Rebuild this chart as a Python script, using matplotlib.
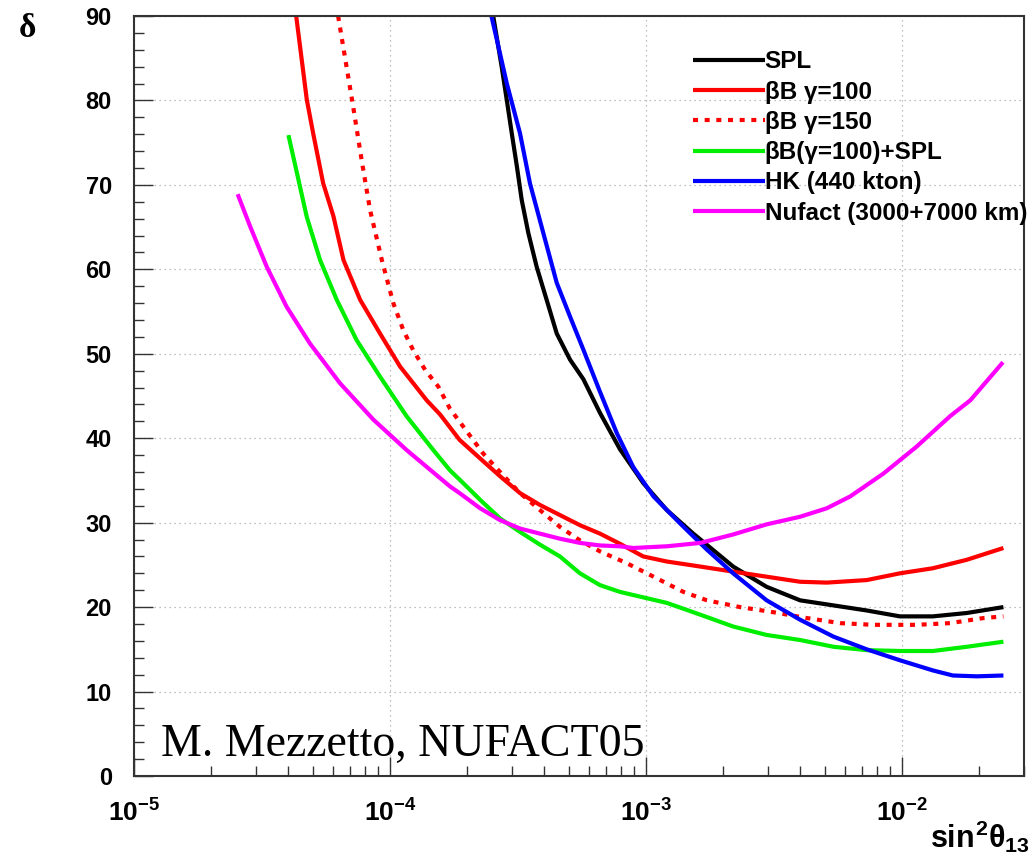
import numpy as np
import matplotlib
matplotlib.use("Agg")
import matplotlib.pyplot as plt
from matplotlib.ticker import MultipleLocator, FixedLocator, LogLocator, NullFormatter

plt.rcParams["font.family"] = ["Liberation Sans", "DejaVu Sans"]
plt.rcParams["font.weight"] = "bold"
plt.rcParams["mathtext.fontset"] = "custom"
plt.rcParams["mathtext.rm"] = "Liberation Sans:bold"
plt.rcParams["mathtext.bf"] = "Liberation Sans:bold"
plt.rcParams["mathtext.it"] = "Liberation Sans:bold"

# sin^2(theta13) values and delta (deg)
spl_x = [2.53e-4, 2.73e-4, 2.86e-4, 2.99e-4, 3.13e-4, 3.27e-4, 3.47e-4, 3.74e-4, 4.09e-4,
         4.48e-4, 5.05e-4, 5.69e-4, 6.61e-4, 7.91e-4, 9.75e-4, 1.205e-3, 1.53e-3, 2.19e-3,
         2.96e-3, 4.00e-3, 5.40e-3, 7.28e-3, 9.82e-3, 1.32e-2, 1.79e-2, 2.49e-2]
spl_y = [90, 84.0, 80.0, 76.1, 72.2, 68.2, 64.3, 60.3, 56.4,
         52.4, 49.3, 47.0, 43.0, 38.7, 34.7, 31.5, 28.7, 24.8,
         22.4, 20.8, 20.2, 19.6, 18.9, 18.9, 19.3, 20.0]

bb100_x = [4.30e-5, 4.73e-5, 5.01e-5, 5.48e-5, 6.01e-5, 6.58e-5, 7.64e-5, 9.14e-5, 1.094e-4,
           1.39e-4, 1.57e-4, 1.87e-4, 2.25e-4, 2.69e-4, 3.22e-4, 3.85e-4, 4.61e-4, 5.52e-4,
           6.61e-4, 7.91e-4, 9.75e-4, 1.205e-3, 1.63e-3, 2.19e-3, 2.96e-3, 4.00e-3, 5.08e-3,
           7.28e-3, 9.82e-3, 1.32e-2, 1.79e-2, 2.49e-2]
bb100_y = [90, 80.1, 76.1, 70.2, 66.3, 61.1, 56.4, 52.4, 48.5,
           44.5, 42.8, 39.8, 37.6, 35.5, 33.5, 32.1, 30.9, 29.7,
           28.7, 27.5, 26.0, 25.4, 24.8, 24.2, 23.6, 23.0, 22.9,
           23.2, 24.0, 24.6, 25.6, 27.0]

bb150_x = [6.27e-5, 7.14e-5, 7.78e-5, 8.36e-5, 9.29e-5, 1.03e-4, 1.127e-4, 1.233e-4, 1.371e-4,
           1.545e-4, 1.714e-4, 1.93e-4, 2.31e-4, 2.69e-4, 3.22e-4, 3.85e-4, 4.61e-4, 5.52e-4,
           6.61e-4, 8.41e-4, 1.07e-3, 1.40e-3, 1.73e-3, 2.33e-3, 3.14e-3, 4.25e-3, 5.73e-3,
           7.73e-3, 1.14e-2, 1.54e-2, 2.08e-2, 2.49e-2]
bb150_y = [90, 79.7, 72.6, 67.0, 61.1, 56.0, 52.8, 50.4, 48.1,
           46.1, 43.5, 41.4, 38.2, 36.0, 33.5, 31.5, 29.5, 27.9,
           26.6, 25.2, 23.6, 21.8, 20.8, 20.0, 19.4, 18.7, 18.1,
           17.9, 17.9, 18.1, 18.7, 18.9]

combo_x = [4.01e-5, 4.33e-5, 4.73e-5, 5.33e-5, 6.19e-5, 7.41e-5, 9.14e-5, 1.161e-4, 1.476e-4,
           1.714e-4, 1.87e-4, 2.25e-4, 2.69e-4, 3.22e-4, 3.85e-4, 4.61e-4, 5.52e-4, 6.61e-4,
           7.91e-4, 1.205e-3, 1.63e-3, 2.19e-3, 2.96e-3, 4.00e-3, 5.40e-3, 7.28e-3, 9.82e-3,
           1.32e-2, 1.79e-2, 2.49e-2]
combo_y = [75.9, 71.4, 66.2, 61.1, 56.4, 51.6, 47.3, 42.6, 38.6,
           36.2, 35.1, 32.7, 30.5, 28.9, 27.4, 26.0, 24.0, 22.6,
           21.8, 20.5, 19.1, 17.7, 16.7, 16.1, 15.3, 14.9, 14.8,
           14.8, 15.3, 15.9]

hk_x = [2.49e-4, 2.86e-4, 3.22e-4, 3.52e-4, 3.97e-4, 4.48e-4, 5.05e-4, 5.69e-4, 6.61e-4,
        7.69e-4, 8.91e-4, 1.07e-3, 1.36e-3, 1.73e-3, 2.19e-3, 2.96e-3, 4.00e-3, 5.40e-3,
        7.28e-3, 9.82e-3, 1.32e-2, 1.58e-2, 1.96e-2, 2.49e-2]
hk_y = [90, 82.0, 76.1, 70.2, 64.3, 58.4, 54.4, 50.5, 45.5,
        40.6, 36.6, 33.1, 29.9, 26.8, 24.0, 20.8, 18.5, 16.5,
        15.0, 13.7, 12.5, 11.9, 11.8, 11.9]

nufact_x = [2.54e-5, 2.84e-5, 3.30e-5, 3.94e-5, 4.87e-5, 6.38e-5, 8.61e-5, 1.161e-4, 1.714e-4,
            1.87e-4, 2.25e-4, 2.69e-4, 3.22e-4, 3.85e-4, 4.61e-4, 5.52e-4, 6.61e-4, 7.91e-4,
            8.91e-4, 1.205e-3, 1.63e-3, 2.19e-3, 2.96e-3, 4.00e-3, 5.08e-3, 6.27e-3, 8.45e-3,
            1.14e-2, 1.54e-2, 1.85e-2, 2.48e-2]
nufact_y = [68.9, 65.1, 60.3, 55.6, 51.2, 46.5, 42.2, 38.6, 34.3,
            33.5, 31.7, 30.3, 29.3, 28.7, 28.1, 27.6, 27.3, 27.2,
            27.0, 27.2, 27.6, 28.6, 29.8, 30.7, 31.7, 33.1, 35.8,
            39.0, 42.6, 44.5, 49.0]

labels = ["SPL", "βB γ=100", "βB γ=150", "βB(γ=100)+SPL", "HK (440 kton)", "Nufact (3000+7000 km)"]
x_ticks = [1e-5, 1e-4, 1e-3, 1e-2]
x_ticklabels = [r"$10^{-5}$", r"$10^{-4}$", r"$10^{-3}$", r"$10^{-2}$"]

fig = plt.figure(figsize=(10.35, 8.67), dpi=100)
ax = fig.add_axes([0.1295, 0.105, 0.86, 0.8765])

lw = 3.0
kw = dict(lw=lw, solid_joinstyle="round", solid_capstyle="butt")
ax.plot(spl_x, spl_y, color="black", label=labels[0], **kw)
ax.plot(bb100_x, bb100_y, color="#ff0000", label=labels[1], **kw)
ax.plot(bb150_x, bb150_y, color="#ff0000", lw=lw, ls=(0, (1.2, 1.6)), label=labels[2])
ax.plot(combo_x, combo_y, color="#00ee00", label=labels[3], **kw)
ax.plot(hk_x, hk_y, color="#0000ff", label=labels[4], **kw)
ax.plot(nufact_x, nufact_y, color="#ff00ff", label=labels[5], **kw)

ax.set_xscale("log")
ax.set_xlim(1e-5, 3e-2)
ax.set_ylim(0, 90)

ax.xaxis.set_major_locator(FixedLocator(x_ticks))
ax.set_xticklabels(x_ticklabels)
ax.xaxis.set_minor_locator(LogLocator(base=10, subs=np.arange(2, 10)))
ax.xaxis.set_minor_formatter(NullFormatter())
ax.yaxis.set_major_locator(MultipleLocator(10))
ax.yaxis.set_minor_locator(MultipleLocator(2))

ax.tick_params(which="both", direction="in", top=False, right=False, colors="#333333")
ax.tick_params(which="major", length=14, width=1.0, labelcolor="black")
ax.tick_params(which="minor", length=7, width=1.0)
ax.tick_params(axis="y", pad=16, labelsize=17)
ax.tick_params(axis="x", pad=17, labelsize=19)
for lab in ax.get_yticklabels():
    lab.set_fontweight("bold")

for s in ax.spines.values():
    s.set_color("#333333")
    s.set_linewidth(1.5)

ax.grid(True, which="major", color="#aaaaaa", ls=(0, (1, 3)), lw=0.9)

leg = ax.legend(loc="upper left", bbox_to_anchor=(0.628, 0.955), frameon=False,
                fontsize=17.5, handlelength=2.95, handletextpad=0.0, labelspacing=0.3,
                borderpad=0, borderaxespad=0)
for t in leg.get_texts():
    t.set_fontweight("bold")

ax.text(0.03, 0.026, "M. Mezzetto, NUFACT05", transform=ax.transAxes,
        family="Liberation Serif", fontweight="normal", fontsize=33, va="baseline")

fig.text(0.018, 0.985, "δ", family="Liberation Serif", fontsize=24, fontweight="bold",
         ha="left", va="top")
fig.text(0.995, 0.022, r"$sin^{2}\theta_{13}$", fontsize=22, ha="right", va="baseline")

fig.savefig("out.png", dpi=100)
